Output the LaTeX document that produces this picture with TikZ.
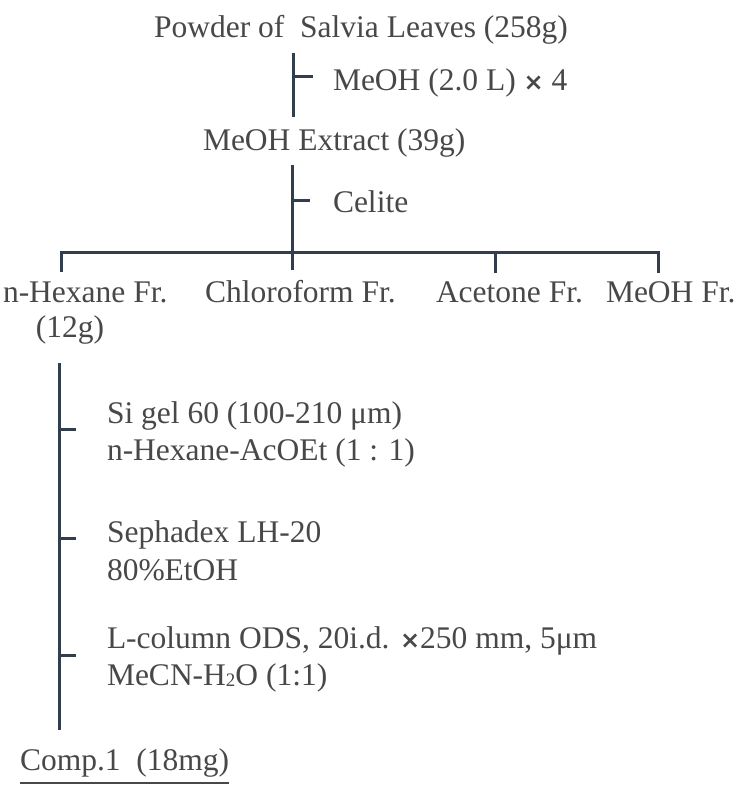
\documentclass[tikz,border=0pt]{standalone}
\usepackage{fontspec}
\setmainfont{Liberation Serif}
\newfontfamily\symf{DejaVu Sans}
\definecolor{txtc}{RGB}{72,72,72}
\definecolor{linec}{RGB}{48,62,78}
\newcommand{\tms}{{\symf\bfseries\fontsize{24}{24}\selectfont ×}}
\begin{document}
\begin{tikzpicture}[x=1pt,y=-1pt,
  lbl/.style={inner sep=0pt, outer sep=0pt, anchor=base west, text=txtc,
    font=\fontsize{31.5}{38}\selectfont},
  flow/.style={draw=linec, line width=3pt, line cap=butt, line join=miter},
  uline/.style={draw=txtc, line width=1.3pt}]
\useasboundingbox (0,0) rectangle (745,788);
\fill[white] (0,0) rectangle (745,788);

% texts
\node[lbl, anchor=base] (title) at (361,37) {Powder of\ \ Salvia Leaves (258g)};
\node[lbl] (meoh) at (333,90) {MeOH (2.0 L) \tms\ 4};
\node[lbl] (extract) at (203,150) {MeOH Extract (39g)};
\node[lbl] (celite) at (333,212) {Celite};
\node[lbl] (hex) at (3,302) {n-Hexane Fr.};
\node[lbl, anchor=base] (hexg) at (70,337) {(12g)};
\node[lbl] (chl) at (205,302) {Chloroform Fr.};
\node[lbl] (ace) at (436,302) {Acetone Fr.};
\node[lbl] (mfr) at (606,302) {MeOH Fr.};
\node[lbl] (si1) at (107,423) {Si gel 60 (100-210 μm)};
\node[lbl] (si2) at (107,460) {n-Hexane-AcOEt (1 : 1)};
\node[lbl] (se1) at (107,542) {Sephadex LH-20};
\node[lbl] (se2) at (107,580) {80\%EtOH};
\node[lbl] (lc1) at (107,648) {L-column ODS, 20i.d. \tms250 mm, 5μm};
\node[lbl] (lc2) at (107,685) {MeCN-H\raisebox{-1pt}{\fontsize{19}{19}\selectfont 2}O (1:1)};
\node[lbl] (comp) at (20,770) {Comp.1\ \ (18mg)};

% coordinates
\coordinate (v1a) at (293,53);
\coordinate (v1b) at (293,117);
\coordinate (t1a) at (293,76);
\coordinate (t1b) at (313,76);
\coordinate (v2a) at (292,165);
\coordinate (v2b) at (292,270);
\coordinate (t2a) at (292,200);
\coordinate (t2b) at (310,200);
\coordinate (bl) at (61,252);
\coordinate (br) at (658,252);
\coordinate (bl2) at (61,272);
\coordinate (ba) at (495,252);
\coordinate (ba2) at (495,273);
\coordinate (br2) at (658,273);
\coordinate (v3a) at (59,363);
\coordinate (v3b) at (59,730);
\coordinate (k1a) at (59,429);
\coordinate (k1b) at (76,429);
\coordinate (k2a) at (59,538);
\coordinate (k2b) at (76,538);
\coordinate (k3a) at (59,655);
\coordinate (k3b) at (76,655);

% connectors
\draw[flow] (v1a) -- (v1b);
\draw[flow] (t1a) -- (t1b);
\draw[flow] (v2a) -- (v2b);
\draw[flow] (t2a) -- (t2b);
\draw[flow] (bl2) -- (bl) -- (br) -- (br2);
\draw[flow] (ba) -- (ba2);
\draw[flow] (v3a) -- (v3b);
\draw[flow] (k1a) -- (k1b);
\draw[flow] (k2a) -- (k2b);
\draw[flow] (k3a) -- (k3b);

% underline
\draw[uline] ([yshift=-13pt]comp.base west) -- ([yshift=-13pt]comp.base east);
\end{tikzpicture}
\end{document}
